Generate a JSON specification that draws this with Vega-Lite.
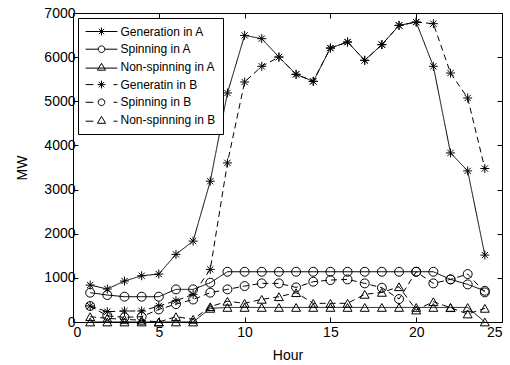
{
  "$schema": "https://vega.github.io/schema/vega-lite/v6.json",
  "autosize": {"type": "none"},
  "width": 429,
  "height": 309,
  "padding": {"left": 73, "top": 13, "right": 8, "bottom": 43},
  "background": "white",
  "config": {
    "font": "Liberation Sans",
    "view": {"stroke": "black", "strokeWidth": 1},
    "axis": {
      "grid": false,
      "domain": false,
      "tickColor": "black",
      "tickSize": -5,
      "labelColor": "black",
      "labelFont": "Liberation Sans",
      "labelFontSize": 14,
      "titleFont": "Liberation Sans",
      "titleFontSize": 14,
      "titleFontWeight": "normal",
      "titleColor": "black",
      "format": "d"
    }
  },
  "data": {"values": [
    {"Hour":1,"Series":"Generation in A","MW":837},{"Hour":2,"Series":"Generation in A","MW":747},{"Hour":3,"Series":"Generation in A","MW":928},{"Hour":4,"Series":"Generation in A","MW":1048},{"Hour":5,"Series":"Generation in A","MW":1086},{"Hour":6,"Series":"Generation in A","MW":1532},{"Hour":7,"Series":"Generation in A","MW":1833},{"Hour":8,"Series":"Generation in A","MW":3190},{"Hour":9,"Series":"Generation in A","MW":5188},{"Hour":10,"Series":"Generation in A","MW":6493},{"Hour":11,"Series":"Generation in A","MW":6418},{"Hour":12,"Series":"Generation in A","MW":6002},{"Hour":13,"Series":"Generation in A","MW":5611},{"Hour":14,"Series":"Generation in A","MW":5452},{"Hour":15,"Series":"Generation in A","MW":6206},{"Hour":16,"Series":"Generation in A","MW":6342},{"Hour":17,"Series":"Generation in A","MW":5928},{"Hour":18,"Series":"Generation in A","MW":6283},{"Hour":19,"Series":"Generation in A","MW":6719},{"Hour":20,"Series":"Generation in A","MW":6794},{"Hour":21,"Series":"Generation in A","MW":5792},{"Hour":22,"Series":"Generation in A","MW":3830},{"Hour":23,"Series":"Generation in A","MW":3423},{"Hour":24,"Series":"Generation in A","MW":1516},
    {"Hour":1,"Series":"Spinning in A","MW":664},{"Hour":2,"Series":"Spinning in A","MW":611},{"Hour":3,"Series":"Spinning in A","MW":573},{"Hour":4,"Series":"Spinning in A","MW":573},{"Hour":5,"Series":"Spinning in A","MW":573},{"Hour":6,"Series":"Spinning in A","MW":739},{"Hour":7,"Series":"Spinning in A","MW":739},{"Hour":8,"Series":"Spinning in A","MW":890},{"Hour":9,"Series":"Spinning in A","MW":1138},{"Hour":10,"Series":"Spinning in A","MW":1138},{"Hour":11,"Series":"Spinning in A","MW":1138},{"Hour":12,"Series":"Spinning in A","MW":1138},{"Hour":13,"Series":"Spinning in A","MW":1138},{"Hour":14,"Series":"Spinning in A","MW":1138},{"Hour":15,"Series":"Spinning in A","MW":1138},{"Hour":16,"Series":"Spinning in A","MW":1138},{"Hour":17,"Series":"Spinning in A","MW":1138},{"Hour":18,"Series":"Spinning in A","MW":1138},{"Hour":19,"Series":"Spinning in A","MW":1138},{"Hour":20,"Series":"Spinning in A","MW":1138},{"Hour":21,"Series":"Spinning in A","MW":1138},{"Hour":22,"Series":"Spinning in A","MW":965},{"Hour":23,"Series":"Spinning in A","MW":852},{"Hour":24,"Series":"Spinning in A","MW":707},
    {"Hour":1,"Series":"Non-spinning in A","MW":0},{"Hour":2,"Series":"Non-spinning in A","MW":0},{"Hour":3,"Series":"Non-spinning in A","MW":0},{"Hour":4,"Series":"Non-spinning in A","MW":0},{"Hour":5,"Series":"Non-spinning in A","MW":0},{"Hour":6,"Series":"Non-spinning in A","MW":0},{"Hour":7,"Series":"Non-spinning in A","MW":0},{"Hour":8,"Series":"Non-spinning in A","MW":309},{"Hour":9,"Series":"Non-spinning in A","MW":330},{"Hour":10,"Series":"Non-spinning in A","MW":330},{"Hour":11,"Series":"Non-spinning in A","MW":330},{"Hour":12,"Series":"Non-spinning in A","MW":330},{"Hour":13,"Series":"Non-spinning in A","MW":330},{"Hour":14,"Series":"Non-spinning in A","MW":330},{"Hour":15,"Series":"Non-spinning in A","MW":330},{"Hour":16,"Series":"Non-spinning in A","MW":330},{"Hour":17,"Series":"Non-spinning in A","MW":330},{"Hour":18,"Series":"Non-spinning in A","MW":330},{"Hour":19,"Series":"Non-spinning in A","MW":330},{"Hour":20,"Series":"Non-spinning in A","MW":330},{"Hour":21,"Series":"Non-spinning in A","MW":330},{"Hour":22,"Series":"Non-spinning in A","MW":330},{"Hour":23,"Series":"Non-spinning in A","MW":330},{"Hour":24,"Series":"Non-spinning in A","MW":0},
    {"Hour":1,"Series":"Generatin in B","MW":362},{"Hour":2,"Series":"Generatin in B","MW":234},{"Hour":3,"Series":"Generatin in B","MW":249},{"Hour":4,"Series":"Generatin in B","MW":249},{"Hour":5,"Series":"Generatin in B","MW":362},{"Hour":6,"Series":"Generatin in B","MW":482},{"Hour":7,"Series":"Generatin in B","MW":626},{"Hour":8,"Series":"Generatin in B","MW":1192},{"Hour":9,"Series":"Generatin in B","MW":3604},{"Hour":10,"Series":"Generatin in B","MW":5437},{"Hour":11,"Series":"Generatin in B","MW":5792},{"Hour":12,"Series":"Generatin in B","MW":6002},{"Hour":13,"Series":"Generatin in B","MW":5611},{"Hour":14,"Series":"Generatin in B","MW":5452},{"Hour":15,"Series":"Generatin in B","MW":6206},{"Hour":16,"Series":"Generatin in B","MW":6342},{"Hour":17,"Series":"Generatin in B","MW":5928},{"Hour":18,"Series":"Generatin in B","MW":6283},{"Hour":19,"Series":"Generatin in B","MW":6719},{"Hour":20,"Series":"Generatin in B","MW":6794},{"Hour":21,"Series":"Generatin in B","MW":6758},{"Hour":22,"Series":"Generatin in B","MW":5640},{"Hour":23,"Series":"Generatin in B","MW":5075},{"Hour":24,"Series":"Generatin in B","MW":3477},
    {"Hour":1,"Series":"Spinning in B","MW":362},{"Hour":2,"Series":"Spinning in B","MW":140},{"Hour":3,"Series":"Spinning in B","MW":106},{"Hour":4,"Series":"Spinning in B","MW":120},{"Hour":5,"Series":"Spinning in B","MW":285},{"Hour":6,"Series":"Spinning in B","MW":405},{"Hour":7,"Series":"Spinning in B","MW":510},{"Hour":8,"Series":"Spinning in B","MW":664},{"Hour":9,"Series":"Spinning in B","MW":739},{"Hour":10,"Series":"Spinning in B","MW":814},{"Hour":11,"Series":"Spinning in B","MW":875},{"Hour":12,"Series":"Spinning in B","MW":875},{"Hour":13,"Series":"Spinning in B","MW":784},{"Hour":14,"Series":"Spinning in B","MW":912},{"Hour":15,"Series":"Spinning in B","MW":950},{"Hour":16,"Series":"Spinning in B","MW":965},{"Hour":17,"Series":"Spinning in B","MW":875},{"Hour":18,"Series":"Spinning in B","MW":777},{"Hour":19,"Series":"Spinning in B","MW":520},{"Hour":20,"Series":"Spinning in B","MW":1138},{"Hour":21,"Series":"Spinning in B","MW":875},{"Hour":22,"Series":"Spinning in B","MW":965},{"Hour":23,"Series":"Spinning in B","MW":1086},{"Hour":24,"Series":"Spinning in B","MW":671},
    {"Hour":1,"Series":"Non-spinning in B","MW":120},{"Hour":2,"Series":"Non-spinning in B","MW":83},{"Hour":3,"Series":"Non-spinning in B","MW":60},{"Hour":4,"Series":"Non-spinning in B","MW":40},{"Hour":5,"Series":"Non-spinning in B","MW":0},{"Hour":6,"Series":"Non-spinning in B","MW":120},{"Hour":7,"Series":"Non-spinning in B","MW":60},{"Hour":8,"Series":"Non-spinning in B","MW":347},{"Hour":9,"Series":"Non-spinning in B","MW":470},{"Hour":10,"Series":"Non-spinning in B","MW":423},{"Hour":11,"Series":"Non-spinning in B","MW":513},{"Hour":12,"Series":"Non-spinning in B","MW":573},{"Hour":13,"Series":"Non-spinning in B","MW":664},{"Hour":14,"Series":"Non-spinning in B","MW":423},{"Hour":15,"Series":"Non-spinning in B","MW":423},{"Hour":16,"Series":"Non-spinning in B","MW":423},{"Hour":17,"Series":"Non-spinning in B","MW":626},{"Hour":18,"Series":"Non-spinning in B","MW":671},{"Hour":19,"Series":"Non-spinning in B","MW":799},{"Hour":20,"Series":"Non-spinning in B","MW":271},{"Hour":21,"Series":"Non-spinning in B","MW":460},{"Hour":22,"Series":"Non-spinning in B","MW":324},{"Hour":23,"Series":"Non-spinning in B","MW":181},{"Hour":24,"Series":"Non-spinning in B","MW":309}
  ]},
  "layer": [
    {
      "mark": {"type": "line", "color": "black", "strokeWidth": 1},
      "encoding": {
        "x": {"field": "Hour", "type": "quantitative", "scale": {"domain": [0, 25], "nice": false},
              "axis": {"values": [0,5,10,15,20,25], "title": "Hour", "labelPadding": 8, "titlePadding": 9, "orient": "bottom"}},
        "y": {"field": "MW", "type": "quantitative", "scale": {"domain": [0, 7000], "nice": false},
              "axis": {"values": [0,1000,2000,3000,4000,5000,6000,7000], "title": "MW", "labelPadding": 3, "titlePadding": 14, "orient": "left"}},
        "detail": {"field": "Series"},
        "strokeDash": {"field": "Series", "type": "nominal", "legend": null,
          "scale": {"domain": ["Generation in A","Spinning in A","Non-spinning in A","Generatin in B","Spinning in B","Non-spinning in B"],
                    "range": [[1,0],[1,0],[1,0],[6,4],[6,4],[6,4]]}}
      }
    },
    {
      "mark": {"type": "point", "filled": false, "stroke": "black", "strokeWidth": 1, "size": 80, "opacity": 1},
      "encoding": {
        "x": {"field": "Hour", "type": "quantitative", "axis": null},
        "y": {"field": "MW", "type": "quantitative", "axis": null},
        "shape": {"field": "Series", "type": "nominal", "legend": null,
          "scale": {"domain": ["Generation in A","Spinning in A","Non-spinning in A","Generatin in B","Spinning in B","Non-spinning in B"],
                    "range": ["M-1,0H1M0,-1V1M-0.7,-0.7L0.7,0.7M-0.7,0.7L0.7,-0.7","circle","triangle-up","M-1,0H1M0,-1V1M-0.7,-0.7L0.7,0.7M-0.7,0.7L0.7,-0.7","circle","triangle-up"]}}
      }
    },
    {
      "mark": {"type": "point", "filled": false, "stroke": "black", "strokeWidth": 1, "size": 36, "opacity": 0},
      "encoding": {
        "x": {"field": "Hour", "type": "quantitative", "axis": {"orient": "top", "labels": false, "title": null, "values": [0,5,10,15,20,25]}},
        "y": {"field": "MW", "type": "quantitative", "axis": {"orient": "right", "labels": false, "title": null, "values": [0,1000,2000,3000,4000,5000,6000,7000]}},
        "shape": {"field": "Series", "type": "nominal",
          "scale": {"domain": ["Generation in A","Spinning in A","Non-spinning in A","Generatin in B","Spinning in B","Non-spinning in B"],
                    "range": [
                      "M-5.3,0H5.3M0,-1.3V1.3M-0.9,-0.9L0.9,0.9M-0.9,0.9L0.9,-0.9",
                      "M-5.3,0H-1.1M1.1,0H5.3M-1.1,0A1.1,1.1 0 1,0 1.1,0A1.1,1.1 0 1,0 -1.1,0",
                      "M-5.3,0.4H5.3M0,-1.2L-1.35,1.1H1.35Z",
                      "M-5.3,0H-2.7M4,0H5.3M-1.3,0H1.3M0,-1.3V1.3M-0.9,-0.9L0.9,0.9M-0.9,0.9L0.9,-0.9",
                      "M-5.3,0H-2.7M4,0H5.3M-1.1,0A1.1,1.1 0 1,0 1.1,0A1.1,1.1 0 1,0 -1.1,0",
                      "M-5.3,0.4H-2.7M4,0.4H5.3M0,-1.2L-1.35,1.1H1.35Z"
                    ]},
          "legend": {
            "orient": "none", "legendX": 5, "legendY": 5, "title": null,
            "strokeColor": "black", "fillColor": "white", "padding": 7.5,
            "symbolSize": 36, "symbolOffset": 10, "labelOffset": 13,
            "labelFont": "Liberation Sans", "labelFontSize": 12, "labelColor": "black",
            "rowPadding": 5.7, "symbolStrokeColor": "black", "symbolStrokeWidth": 1,
            "symbolFillColor": "transparent", "symbolOpacity": 1,
            "labelLimit": 0
          }
        }
      }
    }
  ],
  "resolve": {"scale": {"shape": "independent"}, "axis": {"x": "independent", "y": "independent"}, "legend": {"shape": "independent"}}
}
